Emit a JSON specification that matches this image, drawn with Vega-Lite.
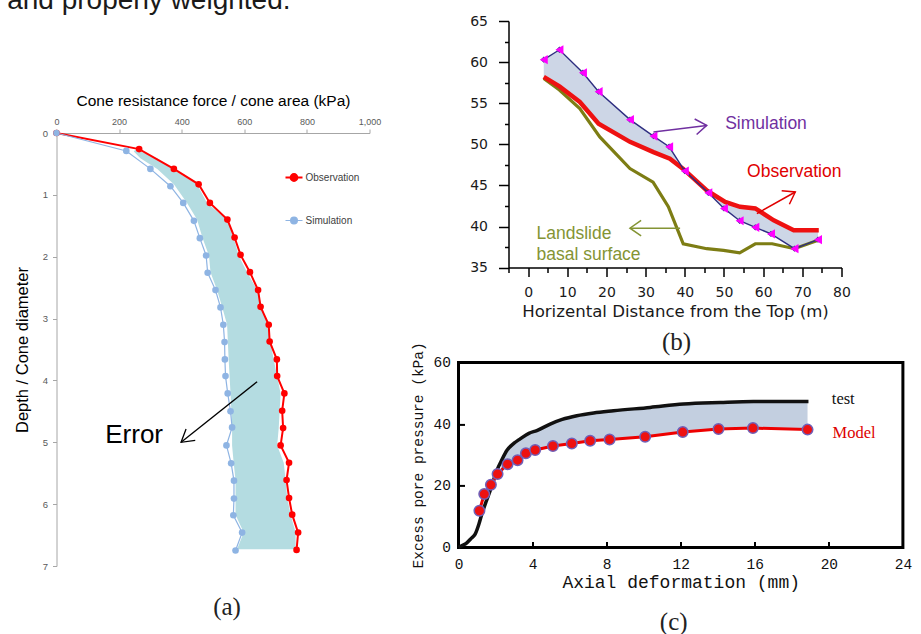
{
  "$schema": "https://vega.github.io/schema/vega-lite/v6.json",
  "background": "white",
  "padding": {"left": 6.5, "top": -14, "right": 4, "bottom": 0},
  "title": {"text": "and properly weighted.", "anchor": "start", "frame": "bounds", "dx": -7, "fontSize": 28, "font": "Liberation Sans", "fontWeight": "normal", "color": "#1a1a1a", "offset": -22.5, "baseline": "alphabetic"},
  "config": {
    "view": {"stroke": null},
    "axis": {"grid": false, "labelOverlap": false, "labelFlush": false}
  },
  "bounds": "flush",
  "spacing": 89,
  "hconcat": [
    {
      "width": 313,
      "height": 545,
      "title": {"text": "(a)", "orient": "bottom", "frame": "group", "anchor": "middle", "dx": 14, "offset": 24, "font": "Liberation Serif", "fontSize": 25, "fontWeight": "normal", "color": "#222222"},
      "encoding": {
        "y": {"field": "d", "type": "quantitative",
          "scale": {"domain": [0, 7], "range": [112, 545], "nice": false, "zero": false},
          "axis": {"orient": "left", "values": [0, 1, 2, 3, 4, 5, 6, 7], "tickSize": 4, "tickColor": "#a6a6a6", "domainColor": "#a6a6a6", "labelColor": "#595959", "labelFont": "Liberation Sans", "labelFontSize": 9.5, "labelPadding": 5, "title": "Depth / Cone diameter", "titleFont": "Liberation Sans", "titleFontSize": 16.5, "titleFontWeight": "normal", "titleColor": "#000000", "titlePadding": 12}},
        "x": {"field": "v", "type": "quantitative",
          "scale": {"domain": [0, 1000], "nice": false, "zero": false},
          "axis": {"orient": "top", "offset": -112, "values": [0, 200, 400, 600, 800, 1000], "tickSize": 4, "tickColor": "#a6a6a6", "domainColor": "#a6a6a6", "labelColor": "#595959", "labelFont": "Liberation Sans", "labelFontSize": 9, "labelPadding": 3, "title": "Cone resistance force / cone area (kPa)", "titleFont": "Liberation Sans", "titleFontSize": 15.5, "titleFontWeight": "normal", "titleColor": "#000000", "titlePadding": 9}}
      },
      "layer": [
        {
          "data": {"values": [
            {"d": 0.27, "v": 252, "v2": 262}, {"d": 0.30, "v": 247, "v2": 268}, {"d": 0.41, "v": 268, "v2": 322},
            {"d": 0.58, "v": 322, "v2": 369}, {"d": 0.83, "v": 375, "v2": 449}, {"d": 1.13, "v": 417, "v2": 481},
            {"d": 1.40, "v": 449, "v2": 545}, {"d": 1.69, "v": 466, "v2": 566}, {"d": 1.98, "v": 487, "v2": 582},
            {"d": 2.25, "v": 492, "v2": 609}, {"d": 2.54, "v": 513, "v2": 641}, {"d": 2.81, "v": 529, "v2": 657},
            {"d": 3.10, "v": 545, "v2": 673}, {"d": 3.66, "v": 550, "v2": 694}, {"d": 4.21, "v": 556, "v2": 716},
            {"d": 4.77, "v": 561, "v2": 710}, {"d": 5.05, "v": 561, "v2": 705}, {"d": 5.33, "v": 566, "v2": 726},
            {"d": 5.61, "v": 572, "v2": 732}, {"d": 5.90, "v": 572, "v2": 737}, {"d": 6.17, "v": 572, "v2": 748},
            {"d": 6.46, "v": 598, "v2": 764}, {"d": 6.73, "v": 577, "v2": 764}
          ]},
          "mark": {"type": "area", "orient": "horizontal", "color": "#b4dce1", "opacity": 1},
          "encoding": {"x2": {"field": "v2"}}
        },
        {
          "data": {"name": "a_series", "values": [
            {"s": "Observation", "v": 0, "d": 0}, {"s": "Observation", "v": 264, "d": 0.26}, {"s": "Observation", "v": 375, "d": 0.58},
            {"s": "Observation", "v": 454, "d": 0.83}, {"s": "Observation", "v": 490, "d": 1.13}, {"s": "Observation", "v": 546, "d": 1.40},
            {"s": "Observation", "v": 569, "d": 1.69}, {"s": "Observation", "v": 588, "d": 1.97}, {"s": "Observation", "v": 618, "d": 2.25},
            {"s": "Observation", "v": 644, "d": 2.54}, {"s": "Observation", "v": 652, "d": 2.81}, {"s": "Observation", "v": 678, "d": 3.10},
            {"s": "Observation", "v": 681, "d": 3.37}, {"s": "Observation", "v": 704, "d": 3.66}, {"s": "Observation", "v": 705, "d": 3.93},
            {"s": "Observation", "v": 728, "d": 4.21}, {"s": "Observation", "v": 721, "d": 4.49}, {"s": "Observation", "v": 724, "d": 4.77},
            {"s": "Observation", "v": 716, "d": 5.05}, {"s": "Observation", "v": 743, "d": 5.33}, {"s": "Observation", "v": 735, "d": 5.61},
            {"s": "Observation", "v": 743, "d": 5.90}, {"s": "Observation", "v": 753, "d": 6.17}, {"s": "Observation", "v": 772, "d": 6.46},
            {"s": "Observation", "v": 767, "d": 6.74},
            {"s": "Simulation", "v": 0, "d": 0}, {"s": "Simulation", "v": 223, "d": 0.29}, {"s": "Simulation", "v": 300, "d": 0.58},
            {"s": "Simulation", "v": 364, "d": 0.86}, {"s": "Simulation", "v": 405, "d": 1.13}, {"s": "Simulation", "v": 439, "d": 1.42},
            {"s": "Simulation", "v": 458, "d": 1.70}, {"s": "Simulation", "v": 478, "d": 1.98}, {"s": "Simulation", "v": 483, "d": 2.26},
            {"s": "Simulation", "v": 508, "d": 2.54}, {"s": "Simulation", "v": 524, "d": 2.82}, {"s": "Simulation", "v": 533, "d": 3.10},
            {"s": "Simulation", "v": 537, "d": 3.38}, {"s": "Simulation", "v": 538, "d": 3.66}, {"s": "Simulation", "v": 540, "d": 3.93},
            {"s": "Simulation", "v": 547, "d": 4.21}, {"s": "Simulation", "v": 556, "d": 4.50}, {"s": "Simulation", "v": 561, "d": 4.76},
            {"s": "Simulation", "v": 543, "d": 5.05}, {"s": "Simulation", "v": 558, "d": 5.34}, {"s": "Simulation", "v": 567, "d": 5.62},
            {"s": "Simulation", "v": 567, "d": 5.91}, {"s": "Simulation", "v": 565, "d": 6.18}, {"s": "Simulation", "v": 593, "d": 6.46},
            {"s": "Simulation", "v": 572, "d": 6.75}
          ]},
          "layer": [
            {
              "mark": {"type": "line"},
              "encoding": {
                "order": {"field": "d", "type": "quantitative"},
                "color": {"field": "s", "type": "nominal", "scale": {"domain": ["Observation", "Simulation"], "range": ["#ff0000", "#8eb4e3"]},
                  "legend": {"title": null, "orient": "none", "legendX": 228, "legendY": 147, "symbolType": "M-1,0H-0.4M0.4,0H1M-0.4,0A0.4,0.4 0 1,1 0.4,0A0.4,0.4 0 1,1 -0.4,0Z", "symbolSize": 289, "labelFont": "Liberation Sans", "labelFontSize": 10, "labelColor": "#404040", "rowPadding": 26, "labelOffset": 2}},
                "strokeWidth": {"field": "s", "type": "nominal", "scale": {"domain": ["Observation", "Simulation"], "range": [2, 1.2]}, "legend": null}
              }
            },
            {
              "mark": {"type": "circle", "opacity": 1, "size": 44},
              "encoding": {
                "color": {"field": "s", "type": "nominal", "scale": {"domain": ["Observation", "Simulation"], "range": ["#ff0000", "#8eb4e3"]},
                  "legend": {"title": null, "orient": "none", "legendX": 228, "legendY": 147, "symbolType": "M-1,0H-0.4M0.4,0H1M-0.4,0A0.4,0.4 0 1,1 0.4,0A0.4,0.4 0 1,1 -0.4,0Z", "symbolSize": 289, "labelFont": "Liberation Sans", "labelFontSize": 10, "labelColor": "#404040", "rowPadding": 26, "labelOffset": 2}}
              }
            }
          ]
        },
        {
          "data": {"values": [{"v": 248, "d": 4.88, "t": "Error"}]},
          "mark": {"type": "text", "font": "Liberation Sans", "fontSize": 26, "align": "center", "baseline": "middle", "color": "#000000"},
          "encoding": {"text": {"field": "t"}}
        },
        {
          "data": {"values": [{"v": 641, "d": 4.02, "v2": 398, "d2": 5.0}]},
          "mark": {"type": "rule", "color": "#000000", "strokeWidth": 1.3},
          "encoding": {"x2": {"field": "v2"}, "y2": {"field": "d2"}}
        },
        {
          "data": {"values": [{"v": 398, "d": 5.0}]},
          "mark": {"type": "point", "shape": "M-1,-0.6L0,0L-1,0.6", "filled": false, "stroke": "#000000", "strokeWidth": 1.3, "size": 600, "angle": 141.4, "opacity": 1},
          "encoding": {}
        }
      ]
    },
    {
      "bounds": "flush",
      "spacing": 94.4,
      "vconcat": [
        {
          "width": 383,
          "height": 246.6,
          "title": {"text": "(b)", "orient": "bottom", "frame": "group", "anchor": "middle", "dx": 26.5, "offset": 10, "font": "Liberation Serif", "fontSize": 25, "fontWeight": "normal", "color": "#222222"},
          "encoding": {
            "x": {"field": "x", "type": "quantitative",
              "scale": {"domain": [-5, 80], "range": [50, 383], "nice": false, "zero": false},
              "axis": {"values": [-5, 0, 5, 10, 15, 20, 25, 30, 35, 40, 45, 50, 55, 60, 65, 70, 75, 80], "labelExpr": "datum.value % 10 === 0 ? datum.label : ''", "domainColor": "#000000", "domainWidth": 1.5, "tickColor": "#000000", "tickWidth": 1.5, "tickSize": {"condition": {"test": "datum.value % 10 === 0", "value": 9}, "value": 5}, "labelFont": "DejaVu Sans", "labelFontSize": 14, "labelColor": "#1a1a1a", "labelPadding": 9, "title": "Horizental Distance from the Top (m)", "titleFont": "DejaVu Sans", "titleFontSize": 16.6, "titleFontWeight": "normal", "titleColor": "#1a1a1a", "titlePadding": 4}},
            "y": {"field": "y", "type": "quantitative",
              "scale": {"domain": [35, 65], "nice": false, "zero": false},
              "axis": {"offset": -50, "values": [35, 37.5, 40, 42.5, 45, 47.5, 50, 52.5, 55, 57.5, 60, 62.5, 65], "labelExpr": "datum.value % 5 === 0 ? datum.label : ''", "domainColor": "#000000", "domainWidth": 1.5, "tickColor": "#000000", "tickWidth": 1.5, "tickSize": {"condition": {"test": "datum.value % 5 === 0", "value": 10}, "value": 4}, "labelFont": "DejaVu Sans", "labelFontSize": 14, "labelColor": "#1a1a1a", "labelPadding": 11, "title": null}}
          },
          "layer": [
            {
              "data": {"values": [
                {"x": 4, "y": 60.3, "y2": 58.2}, {"x": 8, "y": 61.5, "y2": 57.05}, {"x": 14, "y": 58.7, "y2": 54.9},
                {"x": 18, "y": 56.4, "y2": 52.5}, {"x": 26, "y": 53.0, "y2": 50.3}, {"x": 32, "y": 51.0, "y2": 49.05},
                {"x": 36, "y": 49.7, "y2": 48.3}, {"x": 40, "y": 46.75, "y2": 46.9}, {"x": 46, "y": 44.1, "y2": 44.3},
                {"x": 50, "y": 42.2, "y2": 43.1}, {"x": 54, "y": 40.7, "y2": 42.4}, {"x": 58, "y": 39.9, "y2": 42.2},
                {"x": 62, "y": 39.1, "y2": 41.0}, {"x": 68, "y": 37.3, "y2": 39.55}, {"x": 74, "y": 38.4, "y2": 39.55}
              ]},
              "mark": {"type": "area", "color": "#cdd6e6", "opacity": 1},
              "encoding": {"y2": {"field": "y2"}}
            },
            {
              "data": {"values": [
                {"x": 4, "y": 58.0}, {"x": 8, "y": 56.6}, {"x": 13.2, "y": 54.35}, {"x": 18.3, "y": 50.9}, {"x": 26, "y": 47.05},
                {"x": 31.9, "y": 45.4}, {"x": 35.8, "y": 42.4}, {"x": 39.6, "y": 37.9}, {"x": 45.6, "y": 37.3}, {"x": 49.9, "y": 37.1},
                {"x": 54, "y": 36.8}, {"x": 58, "y": 37.9}, {"x": 62.3, "y": 37.9}, {"x": 68, "y": 37.3}, {"x": 74.2, "y": 38.35}
              ]},
              "mark": {"type": "line", "color": "#7d7d14", "strokeWidth": 3.2}
            },
            {
              "data": {"values": [
                {"x": 4, "y": 58.2}, {"x": 8, "y": 57.05}, {"x": 13.2, "y": 55.15}, {"x": 18, "y": 52.5}, {"x": 26, "y": 50.3},
                {"x": 32, "y": 49.05}, {"x": 36.2, "y": 48.25}, {"x": 39.6, "y": 47.0}, {"x": 45.6, "y": 44.4}, {"x": 50.3, "y": 43.0},
                {"x": 54.1, "y": 42.4}, {"x": 58, "y": 42.2}, {"x": 62.7, "y": 40.75}, {"x": 67.8, "y": 39.55}, {"x": 74.2, "y": 39.55}
              ]},
              "mark": {"type": "line", "color": "#ee1111", "strokeWidth": 4.5}
            },
            {
              "data": {"name": "b_sim", "values": [
                {"x": 4, "y": 60.3}, {"x": 8, "y": 61.5}, {"x": 14, "y": 58.7}, {"x": 18, "y": 56.4}, {"x": 26, "y": 53.0},
                {"x": 32, "y": 51.0}, {"x": 36, "y": 49.7}, {"x": 40, "y": 46.75}, {"x": 46, "y": 44.1}, {"x": 50, "y": 42.2},
                {"x": 54, "y": 40.7}, {"x": 58, "y": 39.9}, {"x": 62, "y": 39.1}, {"x": 68, "y": 37.3}, {"x": 74, "y": 38.4}
              ]},
              "layer": [
                {"mark": {"type": "line", "color": "#2e2e80", "strokeWidth": 1.4}},
                {"mark": {"type": "point", "shape": "diamond", "filled": true, "color": "#1f2f80", "size": 40, "opacity": 1}},
                {"mark": {"type": "point", "shape": "triangle-left", "filled": true, "color": "#ff00ff", "size": 85, "opacity": 1}}
              ]
            },
            {
              "data": {"values": [{"x": 50.3, "y": 52.5, "t": "Simulation"}]},
              "mark": {"type": "text", "font": "Liberation Sans", "fontSize": 17.5, "align": "left", "baseline": "middle", "color": "#7030a0"},
              "encoding": {"text": {"field": "t"}}
            },
            {
              "data": {"values": [{"x": 55.9, "y": 46.6, "t": "Observation"}]},
              "mark": {"type": "text", "font": "Liberation Sans", "fontSize": 17.5, "align": "left", "baseline": "middle", "color": "#e00000"},
              "encoding": {"text": {"field": "t"}}
            },
            {
              "data": {"values": [{"x": 2.15, "y": 39.1, "t": "Landslide"}, {"x": 2.15, "y": 36.5, "t": "basal surface"}]},
              "mark": {"type": "text", "font": "Liberation Sans", "fontSize": 17.5, "align": "left", "baseline": "middle", "color": "#849434"},
              "encoding": {"text": {"field": "t"}}
            },
            {
              "data": {"values": [{"x": 32.0, "y": 51.5, "x2": 45.6, "y2": 52.3}]},
              "layer": [
                {"mark": {"type": "rule", "strokeWidth": 1.5, "color": "#7030a0"}, "encoding": {"x2": {"field": "x2"}, "y2": {"field": "y2"}}},
                {"mark": {"type": "point", "shape": "M-1,-0.7L0,0L-1,0.7", "filled": false, "stroke": "#7030a0", "strokeWidth": 1.5, "size": 500, "angle": -7.1, "opacity": 1},
                 "encoding": {"x": {"field": "x2", "type": "quantitative"}, "y": {"field": "y2", "type": "quantitative"}}}
              ]
            },
            {
              "data": {"values": [{"x": 58.4, "y": 41.57, "x2": 68.2, "y2": 44.2}]},
              "layer": [
                {"mark": {"type": "rule", "strokeWidth": 1.5, "color": "#e00000"}, "encoding": {"x2": {"field": "x2"}, "y2": {"field": "y2"}}},
                {"mark": {"type": "point", "shape": "M-1,-0.7L0,0L-1,0.7", "filled": false, "stroke": "#e00000", "strokeWidth": 1.5, "size": 500, "angle": -29.4, "opacity": 1},
                 "encoding": {"x": {"field": "x2", "type": "quantitative"}, "y": {"field": "y2", "type": "quantitative"}}}
              ]
            },
            {
              "data": {"values": [{"x": 38.8, "y": 39.8, "x2": 26.0, "y2": 39.8}]},
              "layer": [
                {"mark": {"type": "rule", "strokeWidth": 1.5, "color": "#849434"}, "encoding": {"x2": {"field": "x2"}, "y2": {"field": "y2"}}},
                {"mark": {"type": "point", "shape": "M-1,-0.7L0,0L-1,0.7", "filled": false, "stroke": "#849434", "strokeWidth": 1.5, "size": 500, "angle": 180, "opacity": 1},
                 "encoding": {"x": {"field": "x2", "type": "quantitative"}, "y": {"field": "y2", "type": "quantitative"}}}
              ]
            }
          ]
        },
        {
          "width": 444.4,
          "height": 185,
          "view": {"stroke": "#000000", "strokeWidth": 3},
          "title": {"text": "(c)", "orient": "bottom", "frame": "group", "anchor": "middle", "dx": -7, "offset": 18, "font": "Liberation Serif", "fontSize": 25, "fontWeight": "normal", "color": "#222222"},
          "encoding": {
            "x": {"field": "x", "type": "quantitative",
              "scale": {"domain": [0, 24], "nice": false, "zero": false},
              "axis": {"values": [0, 4, 8, 12, 16, 20, 24], "domain": false, "tickSize": -6, "tickColor": "#000000", "tickWidth": 2, "labelFont": "Liberation Mono", "labelFontSize": 14.5, "labelColor": "#111111", "labelPadding": 16, "title": "Axial deformation (mm)", "titleFont": "Liberation Mono", "titleFontSize": 18, "titleFontWeight": "normal", "titleColor": "#111111", "titlePadding": 3}},
            "y": {"field": "y", "type": "quantitative",
              "scale": {"domain": [0, 60], "nice": false, "zero": false},
              "axis": {"values": [0, 20, 40, 60], "domain": false, "tickSize": -6, "tickColor": "#000000", "tickWidth": 2, "labelFont": "Liberation Mono", "labelFontSize": 14.5, "labelColor": "#111111", "labelPadding": 14, "title": "Excess pore pressure (kPa)", "titleFont": "Liberation Mono", "titleFontSize": 14.5, "titleFontWeight": "normal", "titleColor": "#111111", "titlePadding": 8}}
          },
          "layer": [
            {
              "data": {"values": [
                {"x": 2.3, "y": 25.0, "y2": 28.4}, {"x": 2.65, "y": 27.0, "y2": 31.6}, {"x": 3.19, "y": 28.3, "y2": 34.6},
                {"x": 3.64, "y": 30.5, "y2": 36.5}, {"x": 4.14, "y": 31.6, "y2": 37.7}, {"x": 5.1, "y": 32.9, "y2": 40.3},
                {"x": 6.12, "y": 33.7, "y2": 42.3}, {"x": 7.11, "y": 34.6, "y2": 43.4}, {"x": 8.16, "y": 35.0, "y2": 44.1},
                {"x": 10.08, "y": 35.9, "y2": 45.3}, {"x": 12.11, "y": 37.4, "y2": 46.4}, {"x": 14.04, "y": 38.4, "y2": 47.0},
                {"x": 15.9, "y": 38.7, "y2": 47.3}, {"x": 18.85, "y": 38.2, "y2": 47.3}
              ]},
              "mark": {"type": "area", "color": "#c3cfe0", "opacity": 1},
              "encoding": {"y2": {"field": "y2"}}
            },
            {
              "data": {"values": [
                {"x": 0, "y": 0}, {"x": 0.2, "y": 0.6}, {"x": 0.45, "y": 1.5}, {"x": 0.7, "y": 3.0}, {"x": 0.9, "y": 4.3},
                {"x": 1.1, "y": 7.5}, {"x": 1.26, "y": 10.8}, {"x": 1.5, "y": 15.0}, {"x": 1.71, "y": 18.4}, {"x": 2.07, "y": 24.9},
                {"x": 2.35, "y": 28.5}, {"x": 2.61, "y": 31.4}, {"x": 3.0, "y": 33.8}, {"x": 3.33, "y": 35.2}, {"x": 3.8, "y": 37.0},
                {"x": 4.23, "y": 37.9}, {"x": 4.95, "y": 40.0}, {"x": 5.6, "y": 41.5}, {"x": 6.39, "y": 42.7}, {"x": 7.3, "y": 43.6},
                {"x": 8.37, "y": 44.3}, {"x": 10.35, "y": 45.4}, {"x": 12.15, "y": 46.5}, {"x": 14.13, "y": 47.0}, {"x": 15.93, "y": 47.3},
                {"x": 18.9, "y": 47.3}
              ]},
              "mark": {"type": "line", "color": "#111111", "strokeWidth": 3.5, "interpolate": "monotone"}
            },
            {
              "data": {"name": "c_model", "values": [
                {"x": 1.13, "y": 11.9}, {"x": 1.39, "y": 17.3}, {"x": 1.75, "y": 20.3}, {"x": 2.11, "y": 23.8}, {"x": 2.65, "y": 27.0},
                {"x": 3.19, "y": 28.3}, {"x": 3.64, "y": 30.5}, {"x": 4.14, "y": 31.6}, {"x": 5.1, "y": 32.9}, {"x": 6.12, "y": 33.7},
                {"x": 7.11, "y": 34.6}, {"x": 8.16, "y": 35.0}, {"x": 10.08, "y": 35.9}, {"x": 12.11, "y": 37.4}, {"x": 14.04, "y": 38.4},
                {"x": 15.9, "y": 38.7}, {"x": 18.85, "y": 38.2}
              ]},
              "layer": [
                {"mark": {"type": "line", "color": "#ee0000", "strokeWidth": 3}},
                {"mark": {"type": "circle", "fill": "#ee1111", "stroke": "#7060b8", "strokeWidth": 1.5, "size": 110, "opacity": 1}}
              ]
            },
            {
              "data": {"values": [{"x": 20.16, "y": 48.1, "t": "test"}]},
              "mark": {"type": "text", "font": "Liberation Serif", "fontSize": 16.5, "align": "left", "baseline": "middle", "color": "#111111"},
              "encoding": {"text": {"field": "t"}}
            },
            {
              "data": {"values": [{"x": 20.2, "y": 37.1, "t": "Model"}]},
              "mark": {"type": "text", "font": "Liberation Serif", "fontSize": 16.5, "align": "left", "baseline": "middle", "color": "#dd0000"},
              "encoding": {"text": {"field": "t"}}
            }
          ]
        }
      ]
    }
  ]
}
